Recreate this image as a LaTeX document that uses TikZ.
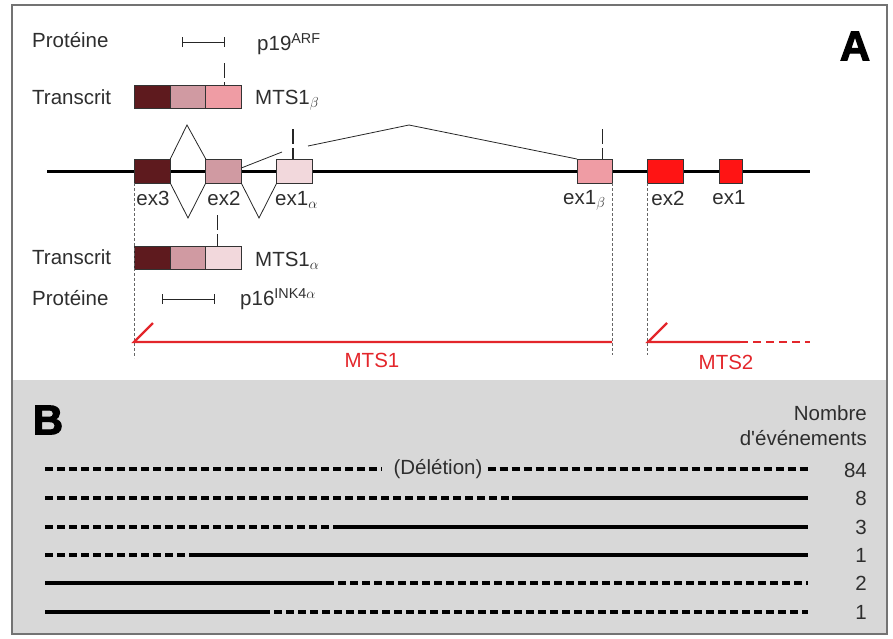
\documentclass[tikz,border=0pt]{standalone}
\usepackage{fontspec}
\setmainfont{Liberation Sans}
\newfontfamily\lettre[BoldFeatures={FakeBold=2.5}]{Liberation Sans}
\usetikzlibrary{arrows.meta,positioning}
\definecolor{exTrois}{HTML}{5E1A1E}
\definecolor{exDeux}{HTML}{D09AA2}
\definecolor{exUnA}{HTML}{F2D8DC}
\definecolor{exUnB}{HTML}{EF9CA4}
\definecolor{rougeExon}{HTML}{FF1414}
\definecolor{rougeTrait}{HTML}{E3262B}
\definecolor{fondB}{HTML}{D8D8D8}
\definecolor{texte}{HTML}{2E2E2E}
\begin{document}
\begin{tikzpicture}[x=1pt, y=-1pt,
    every node/.style={font=\fontsize{20.5}{24}\selectfont, text=texte, inner sep=0pt},
    exon/.style={draw=black!80, line width=0.9pt, minimum width=35.5pt, minimum height=24pt, inner sep=0pt, outer sep=0pt},
    boite/.style={exon, minimum height=23pt},
    epissage/.style={draw=black!85, line width=0.8pt},
    marque/.style={draw=black!85, line width=1.4pt, dash pattern=on 15pt off 4pt},
    repere/.style={draw=black!60, line width=0.9pt, dash pattern=on 3pt off 2pt},
    proteine/.style={draw=black!85, line width=1pt, {Bar[width=10pt]}-{Bar[width=10pt]}},
    traitrouge/.style={draw=rougeTrait, line width=2.2pt},
    pleine/.style={draw=black, line width=3.2pt},
    tirets/.style={draw=black, line width=3.2pt, dash pattern=on 8pt off 4pt},
    lettreAB/.style={font=\fontsize{42}{42}\lettre\bfseries, text=black}]
\useasboundingbox (0,0) rectangle (893,638);
% Fond et cadre
\fill[fondB] (12,380) rectangle (887,634);
\draw[black!55, line width=1.5pt] (12,5) rectangle (887,634);
\node[lettreAB] (lettreA) at (855,46) {A};
\node[lettreAB] (lettreB) at (48,420) {B};

% Partie A : transcrit MTS1 beta
\node[anchor=west] (prot1) at (32,40) {Protéine};
\coordinate (p19a) at (182,42);
\coordinate (p19b) at (225,42);
\draw[proteine] (p19a) -- (p19b);
\node[anchor=west] (p19) at (257,44) {p19\textsuperscript{ARF}};
\node[anchor=west] (trans1) at (32,97) {Transcrit};
\node[boite, fill=exTrois] (tb1) at (152.5,96.5) {};
\node[boite, fill=exDeux, right=0pt of tb1] (tb2) {};
\node[boite, fill=exUnB, right=0pt of tb2] (tb3) {};
\node[anchor=west] (mtsb) at (255,100) {MTS1$_\beta$};
\draw[marque] ([xshift=1pt,yshift=22pt]tb3.north) -- ([xshift=1pt]tb3.north);

% Gene
\coordinate (g0) at (47,171);
\coordinate (g1) at (810,171);
\draw[line width=3pt] (g0) -- (g1);
\node[exon, fill=exTrois] (e3) at (152.5,171) {};
\node[exon, fill=exDeux] (e2) at (223.5,171) {};
\node[exon, fill=exUnA] (e1a) at (294.5,171) {};
\node[exon, fill=exUnB] (e1b) at (594.7,171) {};
\node[exon, fill=rougeExon] (m2e2) at (665.5,171) {};
\node[exon, fill=rougeExon, minimum width=23pt] (m2e1) at (730.5,171) {};
\node (le3) at (153,198) {ex3};
\node (le2) at (224,198) {ex2};
\node[anchor=west] (le1a) at (275,200) {ex1$_\alpha$};
\node[anchor=west] (le1b) at (563,200) {ex1$_\beta$};
\node (lm2e2) at (668,198) {ex2};
\node (lm2e1) at (729,198) {ex1};

% Epissages
\coordinate (s1) at (187,125);
\coordinate (s2) at (188,218);
\coordinate (s3) at (259,218);
\coordinate (s4) at (282,152);
\coordinate (s5) at (308,146);
\coordinate (s6) at (409,125);
\draw[epissage] (e3.north east) -- (s1) -- (e2.north west);
\draw[epissage] (e3.south east) -- (s2) -- (e2.south west);
\draw[epissage] (e2.south east) -- (s3) -- (e1a.south west);
\draw[epissage] ([yshift=3pt]e2.east) -- (s4);
\draw[epissage] (s5) -- (s6) -- (e1b.north west);
\draw[marque] ([xshift=-1.5pt,yshift=30pt]e1a.north) -- ([xshift=-1.5pt]e1a.north);
\draw[marque] ([xshift=8pt,yshift=30pt]e1b.north) -- ([xshift=8pt]e1b.north);

% Partie A : transcrit MTS1 alpha
\node[anchor=west] (trans2) at (32,257) {Transcrit};
\node[boite, fill=exTrois] (ta1) at (152.5,257.5) {};
\node[boite, fill=exDeux, right=0pt of ta1] (ta2) {};
\node[boite, fill=exUnA, right=0pt of ta2] (ta3) {};
\node[anchor=west] (mtsa) at (255,261) {MTS1$_\alpha$};
\draw[marque] ([xshift=-6pt,yshift=31pt]ta3.north) -- ([xshift=-6pt]ta3.north);
\node[anchor=west] (prot2) at (32,298) {Protéine};
\coordinate (p16a) at (162,299);
\coordinate (p16b) at (215,299);
\draw[proteine] (p16a) -- (p16b);
\node[anchor=west] (p16) at (240,299) {p16\textsuperscript{INK4$\alpha$}};

% Reperes et MTS
\coordinate (bas1) at (0,358);
\coordinate (bas2) at (0,355);
\draw[repere] (e3.south west) -- (e3.south west |- bas1);
\draw[repere] (e1b.south east) -- (e1b.south east |- bas2);
\draw[repere] (m2e2.south west) -- (m2e2.south west |- bas2);
\coordinate (mts1h) at (153,323);
\coordinate (mts1a) at (134,342);
\coordinate (mts1b) at (612,342);
\draw[traitrouge] (mts1h) -- (mts1a) -- (mts1b);
\coordinate (mts2h) at (667,323);
\coordinate (mts2a) at (648,342);
\coordinate (mts2b) at (740,342);
\coordinate (mts2c) at (810,342);
\draw[traitrouge] (mts2h) -- (mts2a) -- (mts2b);
\draw[traitrouge, dash pattern=on 8pt off 5pt] (mts2b) -- (mts2c);
\node[text=rougeTrait] (lmts1) at (372,360) {MTS1};
\node[text=rougeTrait] (lmts2) at (726,362) {MTS2};

% Partie B
\node[anchor=east] (nombre) at (867,413) {Nombre};
\node[anchor=east] (evts) at (867,438) {d\textquotesingle événements};
\node (del) at (438,469) {(Délétion)};
\coordinate (d0) at (45,469);
\coordinate (d1) at (808,469);
\draw[tirets] (d0) -- ([xshift=-12pt]del.west);
\draw[tirets] ([xshift=5pt]del.east) -- (d1);
\node[anchor=east] (n1) at (867,470) {84};
\foreach \yy/\xs/\gauche/\droite/\nb [count=\i from 2] in
  {498/512/tirets/pleine/8, 527/341/tirets/pleine/3, 555/193/tirets/pleine/1,
   583/326/pleine/tirets/2, 612/262/pleine/tirets/1}{
  \coordinate (a\i) at (45,\yy);
  \coordinate (b\i) at (\xs,\yy);
  \coordinate (c\i) at (808,\yy);
  \draw[\gauche] (a\i) -- (b\i);
  \draw[\droite] (b\i) -- (c\i);
  \node[anchor=east] (n\i) at (867,\yy) {\nb};
}
\end{tikzpicture}
\end{document}
